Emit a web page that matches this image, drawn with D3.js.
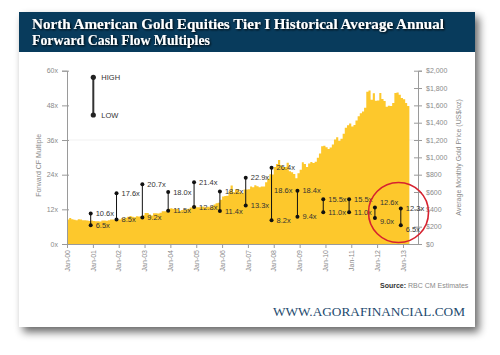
<!DOCTYPE html>
<html><head><meta charset="utf-8">
<script src="https://cdn.jsdelivr.net/npm/d3@7"></script>
<style>
html,body{margin:0;padding:0;background:#fff;}
svg{display:block;}
.tk{font-family:"Liberation Sans Narrow","Arial Narrow","Liberation Sans",sans-serif;font-size:7px;fill:#8a8a8a;}
.lb{font-family:"Liberation Sans Narrow","Arial Narrow","Liberation Sans",sans-serif;font-size:7.5px;fill:#333;}
</style></head>
<body>
<script>
// ---- data ----
const titleLines = ["North American Gold Equities Tier I Historical Average Annual", "Forward Cash Flow Multiples"];
const leftTicks = [0, 12, 24, 36, 48, 60];
const rightTicks = [0, 200, 400, 600, 800, 1000, 1200, 1400, 1600, 1800, 2000];
const xTickYears = [2000,2001,2002,2003,2004,2005,2006,2007,2008,2009,2010,2011,2012,2013];
// monthly average gold price, Jan-2000 .. Mar-2013 (US$/oz)
const goldPrice = [
 284,300,286,280,275,286,282,275,274,270,266,272,
 265,262,263,261,272,270,268,273,283,283,276,276,
 282,296,294,303,314,322,314,310,319,317,319,333,
 357,359,341,328,355,356,351,360,379,379,389,407,
 414,405,406,404,384,392,398,401,406,420,439,442,
 424,423,434,429,422,431,424,438,456,470,476,510,
 549,555,557,610,676,596,633,632,599,586,628,629,
 631,665,655,679,667,655,665,665,712,754,806,803,
 889,922,968,909,888,889,939,839,829,807,760,816,
 858,943,924,890,928,946,934,949,996,1043,1127,1135,
 1118,1095,1113,1148,1205,1233,1193,1215,1271,1343,1370,1391,
 1356,1372,1424,1473,1510,1529,1572,1756,1772,1666,1739,1652,
 1656,1742,1673,1650,1585,1596,1594,1626,1744,1747,1722,1684,
 1671,1627,1593
];
const multYears = [2001,2002,2003,2004,2005,2006,2007,2008,2009,2010,2011,2012,2013];
const multHigh  = [10.6,17.6,20.7,18.0,21.4,18.2,22.9,26.4,18.4,15.5,15.5,12.6,12.3];
const multLow   = [6.5, 8.5, 9.2, 11.5,12.8,11.4,13.3,8.2, 9.4, 11.0,11.0,9.0, 6.5];
const extraLabel = {year:2009, value:18.6, text:"18.6x"};
const legendLabels = ["HIGH","LOW"];
const sourceText = ["Source:", " RBC CM Estimates"];
const footerText = "WWW.AGORAFINANCIAL.COM";

// ---- drawing ----
const W = 500, H = 355;
const svg = d3.select("body").append("svg").attr("width", W).attr("height", H);
const defs = svg.append("defs");
const f = defs.append("filter").attr("id","sh").attr("x","-10%").attr("y","-10%").attr("width","125%").attr("height","130%");
f.append("feGaussianBlur").attr("in","SourceAlpha").attr("stdDeviation",4);
f.append("feOffset").attr("dx",4).attr("dy",5).attr("result","ob");
f.append("feComponentTransfer").append("feFuncA").attr("type","linear").attr("slope",0.6);
const fm = f.append("feMerge"); fm.append("feMergeNode"); fm.append("feMergeNode").attr("in","SourceGraphic");

const card = {x:19, y:12, w:456, h:315};
svg.append("rect").attr("x",card.x).attr("y",card.y).attr("width",card.w).attr("height",card.h)
  .attr("fill","#fff").attr("filter","url(#sh)");
svg.append("rect").attr("x",card.x).attr("y",card.y).attr("width",card.w).attr("height",40).attr("fill","#083b5c");

const tf = defs.append("filter").attr("id","tsh").attr("x","-5%").attr("y","-30%").attr("width","110%").attr("height","160%");
tf.append("feGaussianBlur").attr("in","SourceAlpha").attr("stdDeviation",0.8);
tf.append("feOffset").attr("dx",1.2).attr("dy",1.2).attr("result","o");
const tm = tf.append("feMerge"); tm.append("feMergeNode"); tm.append("feMergeNode").attr("in","SourceGraphic");

svg.selectAll("text.title").data(titleLines).join("text").attr("class","title")
  .attr("x",32).attr("y",(d,i)=>29+i*16)
  .attr("font-family","'Liberation Serif','Times New Roman',serif").attr("font-weight","bold")
  .attr("font-size",15).attr("fill","#fff").attr("filter","url(#tsh)")
  .attr("textLength",(d,i)=> i===0 ? 412 : 178).attr("lengthAdjust","spacingAndGlyphs")
  .text(d=>d);

const x0 = 67, x1 = 403, yTop = 70.7, yBot = 244, xRight = 418;
const x = d3.scaleTime().domain([new Date(2000,0,1), new Date(2013,0,1)]).range([x0, x1]);
const yL = d3.scaleLinear().domain([0,60]).range([yBot, yTop]);
const yR = d3.scaleLinear().domain([0,2000]).range([yBot, yTop]);

// faint gridline
svg.append("line").attr("x1",x0).attr("x2",xRight).attr("y1",yL(36)).attr("y2",yL(36)).attr("stroke","#eeeeee").attr("stroke-width",0.8);

// gold area
const gold = goldPrice.map((v,i)=>({d:new Date(2000, i, 1), v}));
const lastD = new Date(2000, goldPrice.length, 1);
const goldExt = gold.concat([{d:lastD, v:goldPrice[goldPrice.length-1]}]);
svg.append("path").datum(goldExt)
  .attr("d", d3.area().curve(d3.curveStepAfter).x(d=>x(d.d)).y0(yBot).y1(d=>yR(d.v)))
  .attr("fill","#fdc82c");

// axes
const axisColor = "#9a9a9a";
const gl = svg.append("g").attr("transform",`translate(${x0},0)`)
  .call(d3.axisLeft(yL).tickValues(leftTicks).tickFormat(d=>d+"x").tickSize(5).tickPadding(4));
gl.select(".domain").attr("stroke",axisColor);
gl.selectAll(".tick line").attr("stroke",axisColor).attr("x2",-5).attr("x1",2);
gl.selectAll(".tick text").attr("class","tk").attr("font-family",null).attr("font-size",null).attr("fill",null);

const gr = svg.append("g").attr("transform",`translate(${xRight},0)`)
  .call(d3.axisRight(yR).tickValues(rightTicks).tickFormat(d=>"$"+d3.format(",")(d)).tickSize(4).tickPadding(4));
gr.select(".domain").attr("stroke",axisColor);
gr.selectAll(".tick line").attr("stroke",axisColor).attr("x1",-4).attr("x2",4);
gr.selectAll(".tick text").attr("class","tk").attr("font-family",null).attr("font-size",null).attr("fill",null);

const gx = svg.append("g").attr("transform",`translate(0,${yBot})`)
  .call(d3.axisBottom(x).tickValues(xTickYears.map(y=>new Date(y,0,1)))
    .tickFormat(d=>"Jan-"+d3.timeFormat("%y")(d)).tickSize(4).tickPadding(5));
gx.select(".domain").attr("d",`M${x0},0.5H${xRight}`).attr("stroke",axisColor);
gx.selectAll(".tick line").attr("stroke",axisColor);
gx.selectAll(".tick text").attr("class","tk").attr("font-family",null).attr("font-size",null).attr("fill",null)
  .attr("transform","rotate(-90)").attr("text-anchor","end").attr("dy","0.32em").attr("x",-6).attr("y",0);

// axis titles
svg.append("text").attr("class","tk").attr("font-size",7.5)
  .attr("transform",`translate(41,${(yTop+yBot)/2+8}) rotate(-90)`).attr("text-anchor","middle")
  .text("Forward CF Multiple");
svg.append("text").attr("class","tk").attr("font-size",7.5)
  .attr("transform",`translate(461,${(yTop+yBot)/2}) rotate(-90)`).attr("text-anchor","middle")
  .text("Average Monthly Gold Price (US$/oz)");

// high-low markers
const mult = multYears.map((y,i)=>({year:y, hi:multHigh[i], lo:multLow[i], px:x(new Date(y-1,11,1))}));
const gm = svg.append("g");
gm.selectAll("line").data(mult).join("line")
  .attr("x1",d=>d.px).attr("x2",d=>d.px).attr("y1",d=>yL(d.hi)).attr("y2",d=>yL(d.lo))
  .attr("stroke","#111").attr("stroke-width",1);
const pts = mult.flatMap(d=>[{px:d.px, v:d.hi, t:"hi", year:d.year},{px:d.px, v:d.lo, t:"lo", year:d.year}]);
gm.selectAll("circle").data(pts).join("circle")
  .attr("cx",d=>d.px).attr("cy",d=>yL(d.v)).attr("r",2).attr("fill","#111");
gm.selectAll("text.lb").data(pts).join("text").attr("class","lb")
  .attr("x",d=>d.px+5).attr("y",d=>yL(d.v)+2.6 + (d.year===2012 ? (d.t==="hi"?-5:3) : (d.year===2013 && d.t==="lo" ? 4 : 0)))
  .text(d=>d.v.toFixed(1)+"x");
const ex = mult.find(d=>d.year===extraLabel.year);
svg.append("text").attr("class","lb").attr("x",ex.px-5).attr("y",yL(extraLabel.value)+2.6).attr("text-anchor","end").text(extraLabel.text);

// legend
const lgx = 93.3, lgy = [77.3, 115];
svg.append("line").attr("x1",lgx).attr("x2",lgx).attr("y1",lgy[0]).attr("y2",lgy[1]).attr("stroke","#333").attr("stroke-width",2);
svg.selectAll("circle.lg").data(lgy).join("circle").attr("class","lg").attr("cx",lgx).attr("cy",d=>d).attr("r",2.6).attr("fill","#222");
svg.selectAll("text.lgt").data(legendLabels).join("text").attr("class","lb lgt")
  .attr("x",lgx+8).attr("y",(d,i)=>lgy[i]+2.6).attr("font-size",7).text(d=>d);

// red circle highlight
svg.append("circle").attr("cx",398.5).attr("cy",212.5).attr("r",30).attr("fill","none").attr("stroke","#d6222f").attr("stroke-width",1.6);

// source
const st = svg.append("text").attr("class","tk").attr("x",380).attr("y",288).attr("font-size",7).attr("fill","#555");
st.append("tspan").attr("font-weight","bold").attr("fill","#333").text(sourceText[0]);
st.append("tspan").text(sourceText[1]);

// footer
svg.append("text").attr("x",273).attr("y",316).attr("font-family","'Liberation Serif','Times New Roman',serif")
  .attr("font-size",12).attr("fill","#1d4a6e").attr("textLength",192).attr("lengthAdjust","spacingAndGlyphs")
  .text(footerText);
</script>
</body></html>
